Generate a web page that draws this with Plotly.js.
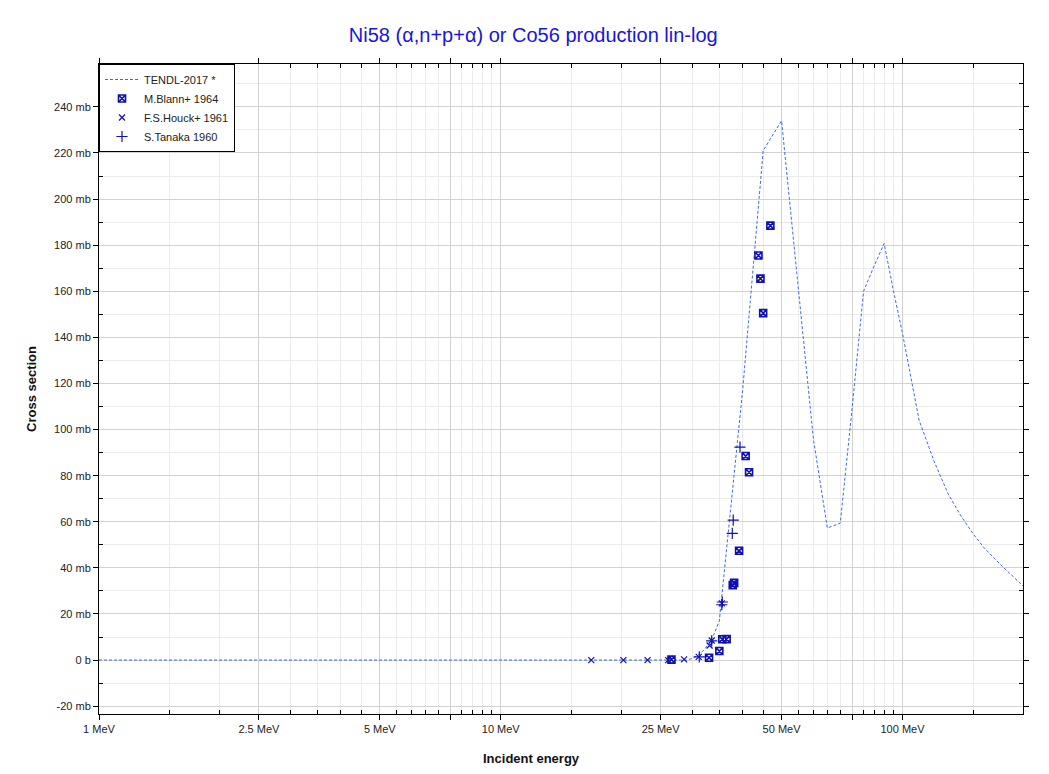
<!DOCTYPE html>
<html>
<head>
<meta charset="utf-8">
<script src="https://cdn.plot.ly/plotly-3.0.1.min.js"></script>
<style>html,body{margin:0;padding:0;background:#fff;}#chart{width:1049px;height:774px;}</style>
</head>
<body>
<div id="chart"></div>
<script>
// TENDL-2017 evaluated curve
const tendlE  = [1, 5, 10, 20, 25, 28, 29, 30, 31, 32, 33, 34, 35, 40, 45, 50, 55, 60, 65, 70, 75, 80, 85, 90, 95, 100, 110, 120, 130, 140, 150, 160, 180, 200];
const tendlXS = [0, 0, 0, 0, 0, 0, 0, 0.7, 2.2, 4.2, 7.3, 11.5, 17, 117, 221, 234, 161, 96, 57.3, 59.4, 110, 160, 171, 180.7, 160, 141.7, 104, 86, 72, 62.3, 54.7, 48.5, 39.5, 32];

// M.Blann+ 1964
const blannE  = [26.6, 33.0, 35.0, 35.6, 36.5, 37.8, 38.1, 39.2, 40.7, 41.5, 43.8, 44.3, 45.0, 46.9];
const blannXS = [0.2, 1.0, 3.9, 9.0, 9.1, 32.5, 33.5, 47.4, 88.5, 81.5, 175.5, 165.5, 150.5, 188.5];

// F.S.Houck+ 1961
const houckE  = [16.8, 20.2, 23.2, 26.1, 28.6, 31.1, 33.1, 33.5, 35.5];
const houckXS = [0, 0, 0, 0, 0.3, 1.4, 6.3, 8.5, 24.6];

// S.Tanaka 1960
const tanakaE  = [31.2, 33.5, 35.5, 35.6, 37.7, 37.9, 39.4];
const tanakaXS = [1.4, 8.3, 24.0, 25.2, 55.0, 60.7, 92.4];

// Axis ticks
const xTickVals = [1, 2.5, 5, 7.5, 10, 25, 50, 75, 100];
const xTickText = ['1 MeV', '2.5 MeV', '5 MeV', '', '10 MeV', '25 MeV', '50 MeV', '', '100 MeV'];
const xMinorVals = [1.5, 2, 3, 3.5, 4, 4.5, 5.5, 6, 6.5, 7, 8, 8.5, 9, 9.5, 15, 20, 30, 35, 40, 45, 55, 60, 65, 70, 80, 85, 90, 95, 150, 200];
const yTickVals = [-20, 0, 20, 40, 60, 80, 100, 120, 140, 160, 180, 200, 220, 240];
const yTickText = ['-20 mb', '0 b', '20 mb', '40 mb', '60 mb', '80 mb', '100 mb', '120 mb', '140 mb', '160 mb', '180 mb', '200 mb', '220 mb', '240 mb'];
const yMinorVals = [-10, 10, 30, 50, 70, 90, 110, 130, 150, 170, 190, 210, 230, 250];

const markColor = '#1010b0';

const traces = [
  {x: tendlE, y: tendlXS, name: 'TENDL-2017 *', type: 'scatter', mode: 'lines',
   line: {color: '#3f6be0', width: 1, dash: '3px,2px'}},
  {x: blannE, y: blannXS, name: 'M.Blann+ 1964', type: 'scatter', mode: 'markers',
   marker: {symbol: 'square-x-open', size: 7, color: markColor, line: {width: 1.6, color: markColor}}},
  {x: houckE, y: houckXS, name: 'F.S.Houck+ 1961', type: 'scatter', mode: 'markers',
   marker: {symbol: 'x-thin-open', size: 6, color: markColor, line: {width: 1.2, color: markColor}}},
  {x: tanakaE, y: tanakaXS, name: 'S.Tanaka 1960', type: 'scatter', mode: 'markers',
   marker: {symbol: 'cross-thin-open', size: 8, color: markColor, line: {width: 1.2, color: markColor}}}
];

const layout = {
  width: 1049, height: 774,
  margin: {l: 99, r: 26, t: 64, b: 60},
  paper_bgcolor: '#ffffff', plot_bgcolor: '#ffffff',
  font: {family: 'Liberation Sans, Arial, sans-serif', size: 11, color: '#222'},
  title: {text: 'Ni58 (α,n+p+α) or Co56 production lin-log', font: {size: 20, color: '#1616dc'},
          xref: 'paper', x: 0.47, xanchor: 'center', yref: 'container', y: 0.955, yanchor: 'middle'},
  showlegend: true,
  legend: {x: 0, y: 1, xanchor: 'left', yanchor: 'top', bgcolor: '#ffffff', bordercolor: '#000', borderwidth: 1,
           font: {size: 11, color: '#222'}, itemwidth: 34, tracegroupgap: 0},
  xaxis: {type: 'log', range: [0, Math.log10(199.5)], tickmode: 'array', tickvals: xTickVals, ticktext: xTickText,
          ticks: 'outside', ticklen: 5, tickcolor: '#000', showline: true, linecolor: '#000', linewidth: 1, mirror: 'allticks',
          showgrid: true, gridcolor: '#d2d2d2', gridwidth: 1, zeroline: false,
          minor: {tickmode: 'array', tickvals: xMinorVals, ticks: 'inside', ticklen: 4, tickcolor: '#000', showgrid: true, gridcolor: '#ebebeb'},
          title: {text: ''}},
  yaxis: {range: [-23.4, 258.6], tickmode: 'array', tickvals: yTickVals, ticktext: yTickText,
          ticks: 'outside', ticklen: 5, tickcolor: '#000', showline: true, linecolor: '#000', linewidth: 1, mirror: 'allticks',
          showgrid: true, gridcolor: '#d2d2d2', gridwidth: 1, zeroline: false,
          minor: {tickmode: 'array', tickvals: yMinorVals, ticks: 'inside', ticklen: 4, tickcolor: '#000', showgrid: true, gridcolor: '#ebebeb'},
          title: {text: 'Cross section', font: {size: 13, color: '#111', weight: 'bold'}, standoff: 14}},
  annotations: [
    {text: '<b>Incident energy</b>', xref: 'paper', yref: 'paper', x: 0.468, y: -0.068, xanchor: 'center', yanchor: 'middle',
     showarrow: false, font: {size: 13, color: '#111'}}
  ]
};

Plotly.newPlot('chart', traces, layout, {displayModeBar: false, staticPlot: true});
</script>
</body>
</html>
